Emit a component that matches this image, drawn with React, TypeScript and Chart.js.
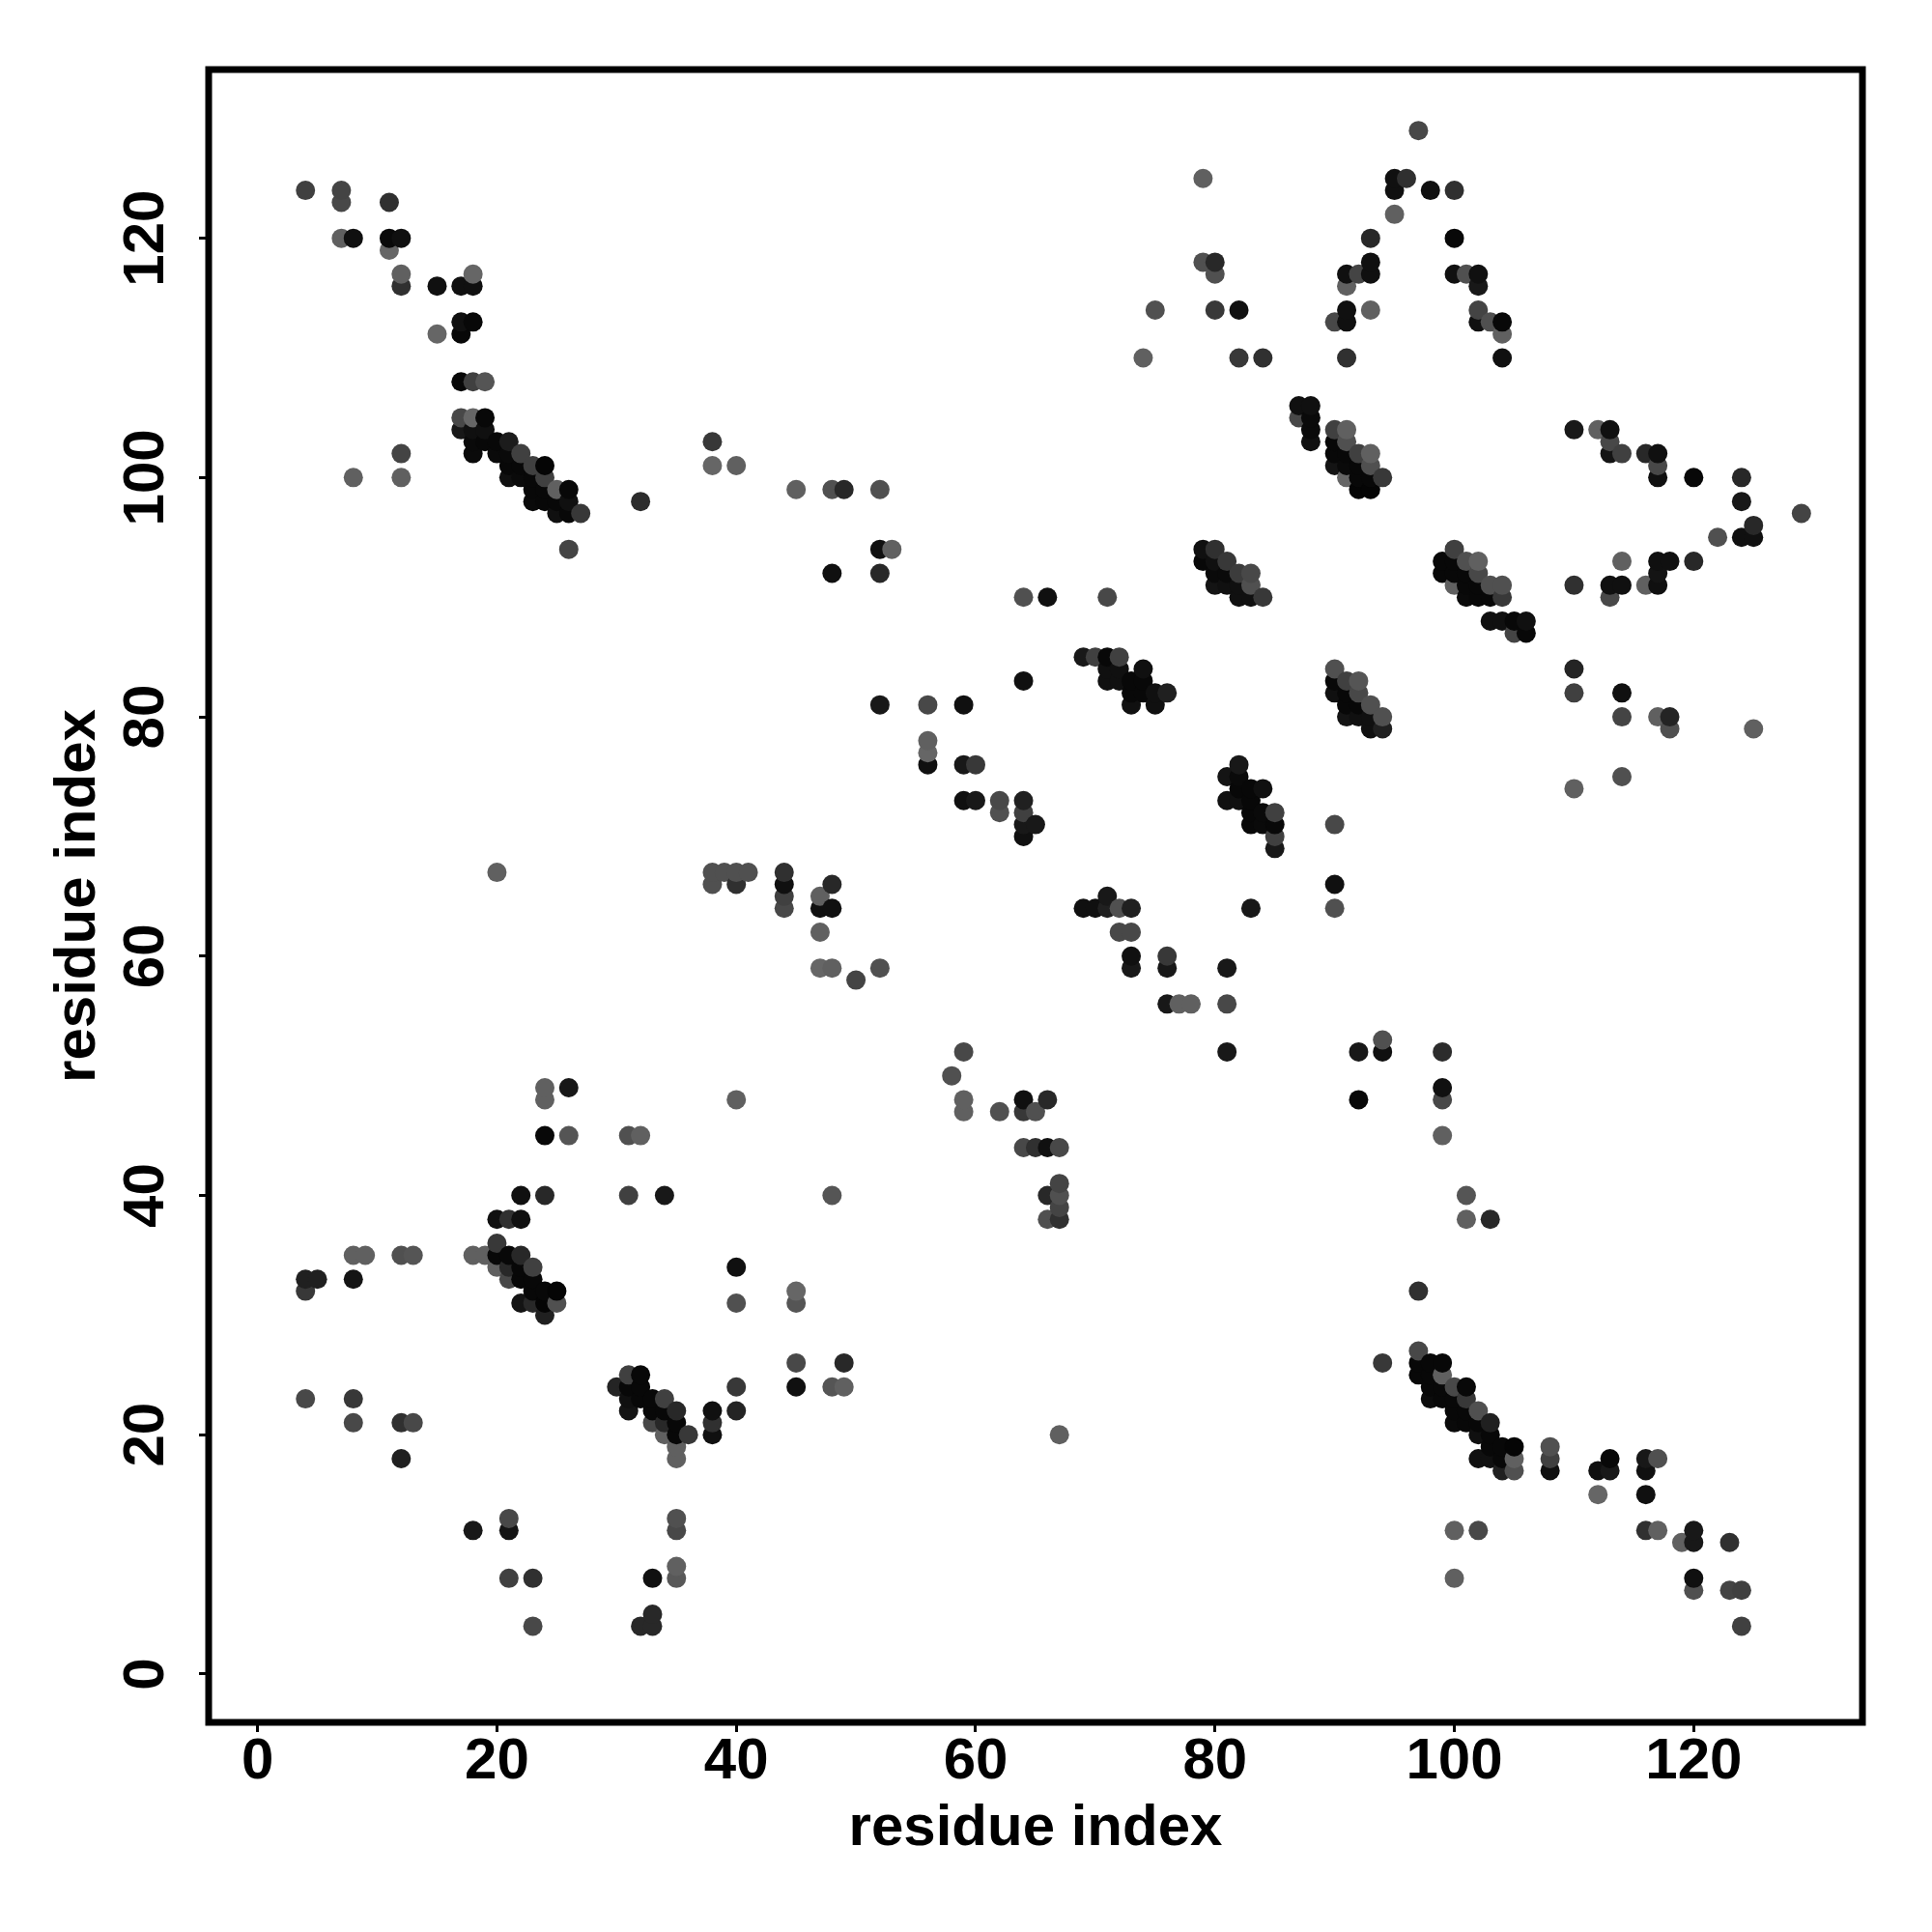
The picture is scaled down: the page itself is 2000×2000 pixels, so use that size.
import React, { useEffect, useRef } from "react";
import { Chart, registerables } from "chart.js";

Chart.register(...registerables);

type Contact = [number, number, number];

const tickValues = [0, 20, 40, 60, 80, 100, 120];
const axisLabel = "residue index";

// [residue i, residue j, grey level]
const helixTop: Contact[] = [
  [4,124,0x40],[7,124,0x44],[7,123,0x48],[7,120,0x60],[8,120,0x10],[11,123,0x30],[11,120,0x0a],[11,119,0x66],[12,120,0x10],[12,117,0x60],[12,116,0x30],
  [15,116,0x10],[15,112,0x66],[17,116,0x10],[18,116,0x10],[18,117,0x66],[17,113,0x10],[18,113,0x08],[17,112,0x08],[17,108,0x08],[18,108,0x40],[19,108,0x55],
  [8,100,0x60],[12,102,0x44],[12,100,0x60],
];
const clusterA: Contact[] = [
  [17,105,0x48],[18,105,0x66],[19,105,0x08],[17,104,0x18],[18,104,0x10],[19,104,0x10],[18,103,0x0a],[19,103,0x08],[20,103,0x08],[21,103,0x1c],
  [18,102,0x0a],[20,102,0x0a],[21,102,0x0a],[22,102,0x40],[21,101,0x08],[22,101,0x08],[23,101,0x40],[24,101,0x05],[21,100,0x10],[22,100,0x0a],[23,100,0x08],[24,100,0x40],
  [23,99,0x08],[24,99,0x08],[25,99,0x60],[26,99,0x08],[23,98,0x0a],[24,98,0x08],[25,98,0x08],[26,98,0x10],[25,97,0x10],[26,97,0x08],[27,97,0x38],[26,94,0x44],
];
const upperMiddle: Contact[] = [
  [38,103,0x38],[38,101,0x66],[40,101,0x60],[32,98,0x2c],[45,99,0x60],[48,99,0x50],[49,99,0x28],[52,99,0x50],[52,94,0x10],[53,94,0x60],[48,92,0x10],[52,92,0x28],
  [64,90,0x50],[66,90,0x10],[71,90,0x48],[64,83,0x10],[52,81,0x18],[56,81,0x48],[59,81,0x10],[56,78,0x60],[56,77,0x66],[56,76,0x10],[59,76,0x18],[60,76,0x38],
  [59,73,0x10],[60,73,0x18],[62,73,0x48],[62,72,0x50],[64,73,0x20],[64,72,0x40],[64,71,0x18],[65,71,0x18],[64,70,0x10],
];
const clusterB: Contact[] = [
  [69,85,0x18],[70,85,0x40],[71,85,0x08],[72,85,0x40],[71,84,0x10],[72,84,0x10],[74,84,0x10],[71,83,0x10],[72,83,0x10],[73,83,0x08],[74,83,0x08],
  [73,82,0x08],[74,82,0x08],[75,82,0x10],[76,82,0x20],[73,81,0x10],[75,81,0x10],
];
const clusterC: Contact[] = [
  [82,76,0x18],[81,75,0x14],[82,75,0x0a],[82,74,0x08],[83,74,0x08],[84,74,0x10],[81,73,0x10],[82,73,0x10],[83,73,0x08],
  [83,72,0x08],[84,72,0x0a],[85,72,0x40],[83,71,0x08],[84,71,0x0a],[85,71,0x08],[85,70,0x40],[85,69,0x18],[83,64,0x18],[90,71,0x48],[90,66,0x10],[90,64,0x50],
];
const clusterD: Contact[] = [
  [90,84,0x50],[90,83,0x08],[91,83,0x40],[92,83,0x55],[90,82,0x10],[91,82,0x08],[92,82,0x48],[91,81,0x08],[92,81,0x08],[93,81,0x50],
  [91,80,0x14],[92,80,0x10],[93,80,0x10],[94,80,0x50],[93,79,0x10],[94,79,0x20],
];
const clusterE: Contact[] = [
  [87,106,0x10],[88,106,0x10],[87,105,0x48],[88,105,0x0a],[88,104,0x0a],[88,103,0x10],
  [90,104,0x40],[91,104,0x60],[90,103,0x08],[91,103,0x50],[90,102,0x08],[91,102,0x08],[92,102,0x40],[93,102,0x60],
  [90,101,0x14],[91,101,0x0a],[92,101,0x08],[93,101,0x50],[91,100,0x66],[92,100,0x08],[93,100,0x08],[94,100,0x38],[92,99,0x05],[93,99,0x05],
];
const clusterF: Contact[] = [
  [100,94,0x40],[99,93,0x08],[100,93,0x08],[101,93,0x50],[102,93,0x60],[99,92,0x08],[100,92,0x08],[101,92,0x08],[102,92,0x48],
  [100,91,0x60],[101,91,0x08],[102,91,0x08],[103,91,0x50],[104,91,0x50],[101,90,0x0a],[102,90,0x08],[103,90,0x08],[104,90,0x38],
  [103,88,0x10],[104,88,0x10],[105,88,0x08],[106,88,0x10],[105,87,0x44],[106,87,0x08],
];
const clusterG: Contact[] = [
  [79,94,0x10],[80,94,0x30],[79,93,0x08],[80,93,0x10],[81,93,0x38],[80,92,0x0a],[81,92,0x0a],[82,92,0x3c],[83,92,0x48],
  [80,91,0x14],[81,91,0x10],[82,91,0x10],[83,91,0x50],[82,90,0x10],[83,90,0x10],[84,90,0x38],
];
const rightSide: Contact[] = [
  [110,104,0x18],[110,91,0x30],[110,84,0x24],[110,82,0x40],[112,104,0x60],[113,104,0x10],[113,103,0x48],[113,102,0x14],[114,102,0x40],[116,102,0x28],[117,102,0x10],[117,101,0x48],[117,100,0x10],
  [120,100,0x08],[124,100,0x28],[124,98,0x18],[125,96,0x28],[124,95,0x10],[125,95,0x10],[122,95,0x50],[129,97,0x44],[114,93,0x60],[117,93,0x10],[118,93,0x10],[120,93,0x28],[117,92,0x14],
  [116,91,0x60],[117,91,0x10],[113,91,0x10],[114,91,0x10],[113,90,0x48],[114,82,0x10],[114,80,0x44],[117,80,0x60],[118,80,0x24],[118,79,0x50],[125,79,0x60],[110,74,0x60],[114,75,0x50],
];
const peakTop: Contact[] = [
  [97,129,0x48],[79,125,0x60],[95,125,0x10],[96,125,0x30],[95,124,0x10],[98,124,0x10],[100,124,0x30],[95,122,0x60],[93,120,0x28],[100,120,0x08],[79,118,0x50],[80,118,0x28],[80,117,0x50],
  [93,118,0x10],[91,117,0x10],[92,117,0x44],[93,117,0x10],[100,117,0x10],[101,117,0x50],[102,117,0x10],[91,116,0x60],[102,116,0x18],[75,114,0x50],[80,114,0x38],[82,114,0x10],[91,114,0x10],
  [93,114,0x60],[102,114,0x44],[90,113,0x48],[91,113,0x10],[102,113,0x10],[103,113,0x50],[104,113,0x08],[104,112,0x60],[74,110,0x60],[82,110,0x38],[84,110,0x30],[91,110,0x30],[104,110,0x10],
];
const middle: Contact[] = [
  [20,67,0x60],[38,67,0x50],[39,67,0x50],[40,67,0x50],[41,67,0x50],[38,66,0x50],[40,66,0x30],[44,67,0x30],[44,66,0x10],[44,65,0x40],[44,64,0x48],[47,65,0x60],[47,64,0x10],[48,66,0x28],[48,64,0x10],
  [47,62,0x60],[47,59,0x66],[48,59,0x60],[50,58,0x44],[52,59,0x50],[69,64,0x10],[70,64,0x10],[71,65,0x18],[71,64,0x20],[72,64,0x50],[73,64,0x20],[72,62,0x48],[73,62,0x48],[73,60,0x10],[73,59,0x18],
  [76,60,0x38],[76,59,0x18],[76,56,0x18],[77,56,0x60],[78,56,0x60],[81,59,0x18],[81,56,0x48],[81,52,0x18],
];
const lowerMiddle: Contact[] = [
  [92,52,0x18],[94,53,0x50],[94,52,0x10],[92,48,0x08],[59,52,0x48],[58,50,0x50],[59,48,0x60],[59,47,0x60],[62,47,0x50],[64,48,0x10],[64,47,0x38],[65,47,0x50],[66,48,0x28],
  [64,44,0x48],[65,44,0x30],[66,44,0x10],[67,44,0x48],[67,41,0x44],[66,40,0x28],[67,40,0x50],[67,39,0x44],[66,38,0x50],[67,38,0x30],
  [99,52,0x2c],[99,49,0x10],[99,48,0x48],[99,45,0x60],[101,40,0x55],[101,38,0x60],[103,38,0x28],[97,32,0x30],[67,20,0x60],
];
const lowerLeft: Contact[] = [
  [24,49,0x60],[24,48,0x60],[26,49,0x18],[24,45,0x08],[26,45,0x55],[40,48,0x60],[31,45,0x50],[32,45,0x60],[22,40,0x10],[24,40,0x28],[31,40,0x40],[34,40,0x18],[48,40,0x55],
  [40,34,0x10],[40,31,0x50],[45,32,0x66],[45,31,0x55],[4,33,0x20],[5,33,0x20],[4,32,0x38],[8,33,0x14],[8,35,0x60],[9,35,0x60],[12,35,0x50],[13,35,0x55],
  [4,23,0x48],[8,23,0x38],[8,21,0x48],[12,21,0x30],[13,21,0x48],[12,18,0x20],
];
const clusterH: Contact[] = [
  [20,38,0x10],[21,38,0x30],[22,38,0x10],[20,36,0x38],[18,35,0x60],[19,35,0x60],[20,35,0x08],[21,35,0x08],[22,35,0x28],[20,34,0x60],[21,34,0x28],[22,34,0x08],[23,34,0x40],
  [21,33,0x48],[22,33,0x08],[23,33,0x08],[23,32,0x08],[24,32,0x08],[25,32,0x05],[22,31,0x14],[23,31,0x28],[24,31,0x05],[25,31,0x50],[24,30,0x20],
];
const clusterI: Contact[] = [
  [31,25,0x40],[32,25,0x08],[30,24,0x24],[31,24,0x08],[32,24,0x08],[31,23,0x10],[32,23,0x08],[33,23,0x08],[34,23,0x40],[31,22,0x14],[33,22,0x08],[34,22,0x08],[35,22,0x28],
  [33,21,0x48],[34,21,0x28],[35,21,0x08],[34,20,0x60],[35,20,0x08],[36,20,0x38],[35,19,0x60],[35,18,0x60],[38,22,0x10],[38,21,0x30],[38,20,0x10],[40,24,0x38],[40,22,0x24],
  [45,26,0x48],[45,24,0x10],[48,24,0x55],[49,26,0x28],[49,24,0x60],
];
const bottomLeft: Contact[] = [
  [18,12,0x18],[21,13,0x48],[21,12,0x14],[21,8,0x40],[23,8,0x30],[23,4,0x48],[32,4,0x28],[33,5,0x28],[33,4,0x28],[33,8,0x10],[35,13,0x50],[35,12,0x48],[35,9,0x60],[35,8,0x58],
];
const clusterJ: Contact[] = [
  [97,27,0x48],[97,26,0x08],[98,26,0x08],[99,26,0x08],[97,25,0x08],[98,25,0x08],[99,25,0x60],[98,24,0x08],[99,24,0x08],[100,24,0x48],[101,24,0x08],
  [98,23,0x0c],[99,23,0x08],[100,23,0x08],[101,23,0x38],[100,22,0x08],[101,22,0x08],[102,22,0x50],[100,21,0x0a],[101,21,0x08],[102,21,0x08],[103,21,0x20],
  [102,20,0x10],[103,20,0x08],[103,19,0x08],[104,19,0x08],[105,19,0x05],[102,18,0x10],[103,18,0x10],[104,18,0x08],[105,18,0x60],[104,17,0x20],[105,17,0x50],
];
const bottomRight: Contact[] = [
  [94,26,0x38],[108,19,0x50],[108,18,0x40],[108,17,0x10],[112,17,0x10],[113,18,0x08],[113,17,0x18],[112,15,0x66],[116,18,0x18],[116,17,0x10],[117,18,0x50],[116,15,0x10],[116,12,0x30],[117,12,0x60],
  [119,11,0x60],[120,12,0x18],[120,11,0x18],[123,11,0x30],[120,8,0x10],[120,7,0x50],[123,7,0x44],[124,7,0x40],[124,4,0x40],[100,12,0x60],[102,12,0x48],[100,8,0x60],
];

const contacts = [
  ...helixTop, ...clusterA, ...upperMiddle, ...clusterB, ...clusterC, ...clusterD, ...clusterE, ...clusterF, ...clusterG,
  ...rightSide, ...peakTop, ...middle, ...lowerMiddle, ...lowerLeft, ...clusterH, ...clusterI, ...bottomLeft, ...clusterJ, ...bottomRight,
].sort((a, b) => a[0] - b[0] || a[1] - b[1]);

const FONT = { family: "'Liberation Sans', Arial, sans-serif", weight: "bold" as const, size: 60 };

const framePlugin = {
  id: "frame",
  afterDraw(chart: Chart) {
    const { ctx, chartArea: a } = chart;
    ctx.save();
    ctx.strokeStyle = "#000";
    ctx.lineWidth = 7;
    ctx.strokeRect(a.left, a.top, a.right - a.left, a.bottom - a.top);
    ctx.restore();
  },
};

export default function App() {
  const ref = useRef<HTMLCanvasElement>(null);
  useEffect(() => {
    const chart = new Chart(ref.current!, {
      type: "scatter",
      data: {
        datasets: [
          {
            label: axisLabel,
            data: contacts.map(([x, y]) => ({ x, y })),
            pointRadius: 10,
            pointBorderWidth: 0,
            pointBackgroundColor: contacts.map(([, , g]) => `rgb(${g},${g},${g})`),
          },
        ],
      },
      options: {
        responsive: false,
        animation: false,
        layout: { padding: { top: 72, right: 72, left: 0, bottom: 0 } },
        plugins: { legend: { display: false }, tooltip: { enabled: false } },
        scales: {
          x: {
            type: "linear",
            min: -4.09,
            max: 134.1,
            afterFit: (s: any) => { s.height = 217; },
            afterBuildTicks: (s: any) => { s.ticks = tickValues.map((value) => ({ value })); },
            grid: { display: true, drawOnChartArea: false, drawTicks: true, tickLength: 10, tickWidth: 3, tickColor: "#000" },
            border: { display: false },
            ticks: { color: "#000", font: FONT, padding: -5, maxRotation: 0, minRotation: 0, autoSkip: false },
            title: { display: true, text: axisLabel, color: "#000", font: FONT, padding: { top: 0, bottom: 71 } },
          },
          y: {
            type: "linear",
            min: -4.04,
            max: 134.1,
            afterFit: (s: any) => { s.width = 216; },
            afterBuildTicks: (s: any) => { s.ticks = tickValues.map((value) => ({ value })); },
            grid: { display: true, drawOnChartArea: false, drawTicks: true, tickLength: 10, tickWidth: 3, tickColor: "#000" },
            border: { display: false },
            ticks: { color: "#000", font: FONT, padding: 3, minRotation: 90, maxRotation: 90, crossAlign: "center", autoSkip: false },
            title: { display: true, text: axisLabel, color: "#000", font: FONT, padding: { top: 45, bottom: 0 } },
          },
        },
      },
      plugins: [framePlugin],
    });
    return () => chart.destroy();
  }, []);
  return (
    <div style={{ position: "absolute", left: 0, top: 0, width: 2000, height: 2000, background: "#fff" }}>
      <canvas ref={ref} width={2000} height={2000} style={{ display: "block" }} />
    </div>
  );
}
